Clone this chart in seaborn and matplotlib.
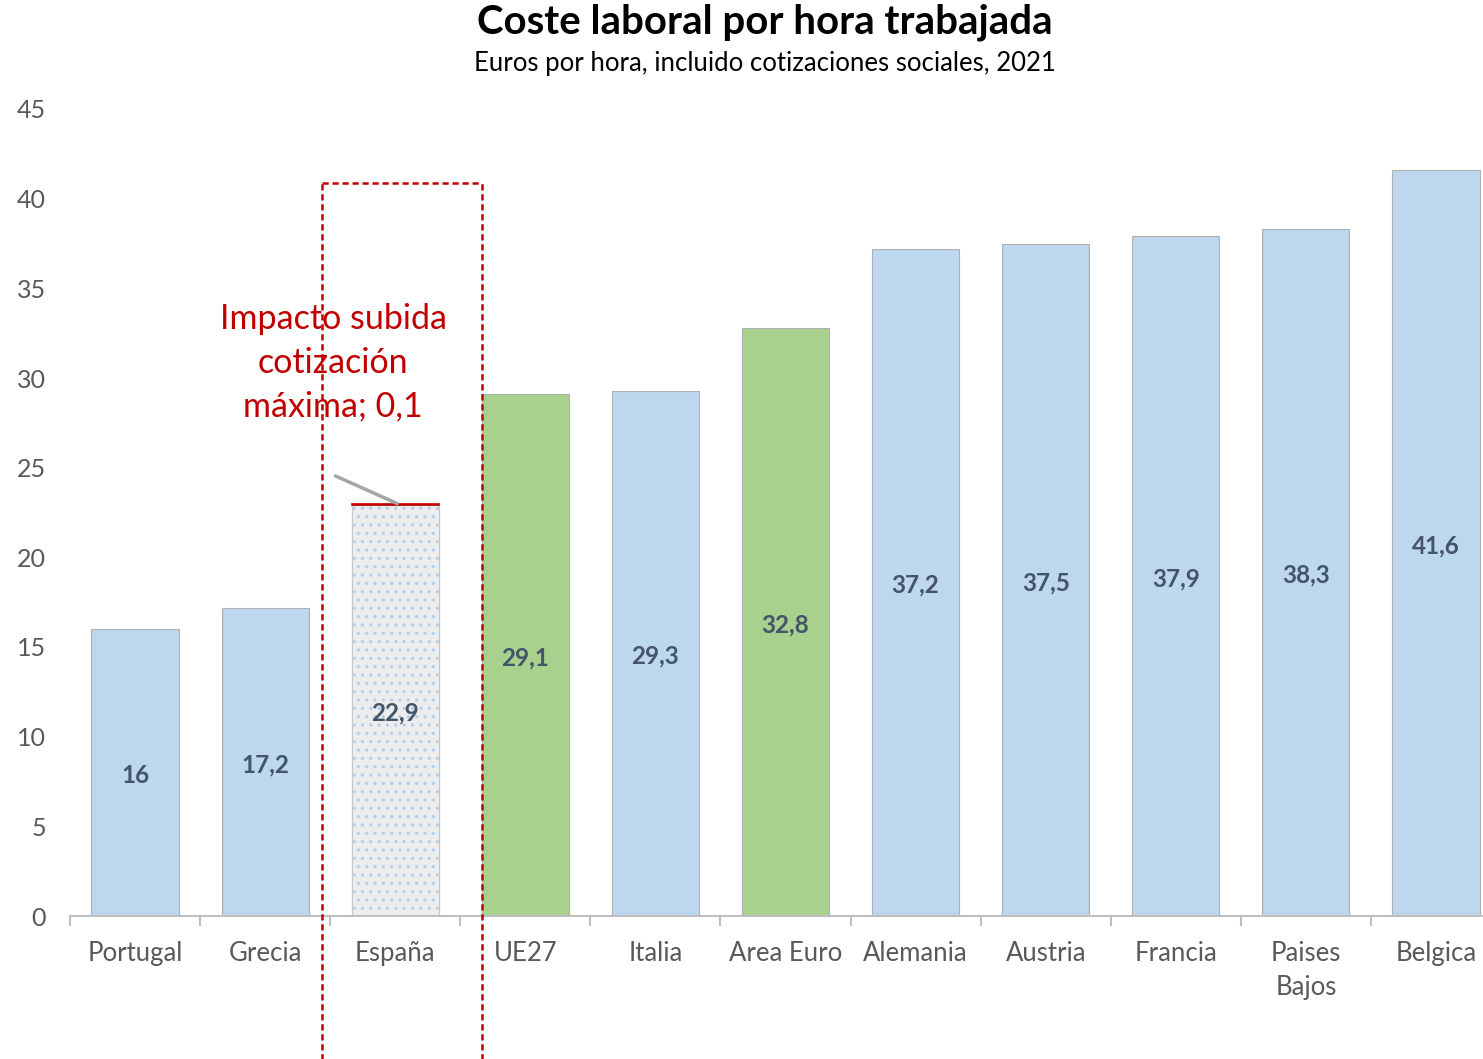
import numpy as np
import pandas as pd
import seaborn as sns
import matplotlib.pyplot as plt

# Datos: coste laboral por hora, 2021
paises = ['Portugal', 'Grecia', 'España', 'UE27', 'Italia', 'Area Euro',
          'Alemania', 'Austria', 'Francia', 'Paises\nBajos', 'Belgica']
coste = [16.0, 17.2, 22.9, 29.1, 29.3, 32.8, 37.2, 37.5, 37.9, 38.3, 41.6]
etiquetas = ['16', '17,2', '22,9', '29,1', '29,3', '32,8', '37,2', '37,5', '37,9', '38,3', '41,6']
impacto = 0.1
y_ticks = [0, 5, 10, 15, 20, 25, 30, 35, 40, 45]

azul = '#BDD7EE'
verde = '#A9D18E'
gris_barra = '#EDEDED'
rojo = '#C00000'
colores = [azul, azul, gris_barra, verde, azul, verde, azul, azul, azul, azul, azul]

df = pd.DataFrame({'pais': paises, 'coste': coste})

sns.set_style('white')
plt.rcParams['font.family'] = ['Lato', 'DejaVu Sans']
plt.rcParams['hatch.linewidth'] = 1.2

fig = plt.figure(figsize=(14.83, 10.59), dpi=100)
ax = fig.add_axes([70 / 1483, 1 - 916 / 1059, 1431 / 1483, (916 - 109) / 1059])

sns.barplot(data=df, x='pais', y='coste', hue='pais', palette=colores,
            legend=False, width=0.67, edgecolor='#B0B0B0', linewidth=0.8,
            saturation=1, ax=ax)

# España: trama punteada y franja roja del impacto
i_es = paises.index('España')
ax.bar(i_es, coste[i_es], width=0.67, facecolor='none', edgecolor='#B4D0EC',
       hatch='..', linewidth=0)
ax.bar(i_es, coste[i_es], width=0.67, facecolor='none', edgecolor='#C8C8C8',
       linewidth=0.8)
ax.bar(i_es, impacto, bottom=coste[i_es], width=0.67, color=rojo,
       edgecolor=rojo, linewidth=1.2)

# etiquetas de datos
for i, (v, t) in enumerate(zip(coste, etiquetas)):
    ax.text(i, v / 2 - 0.15, t, ha='center', va='center', fontsize=17.5,
            fontweight='bold', color='#44546A')

# anotación
ax.plot([1.54, 2.015], [24.54, 23.0], color='#A6A6A6', lw=2.5,
        solid_capstyle='round')
ax.text(1.523, 30.84, 'Impacto subida\ncotización\nmáxima; 0,1', ha='center',
        va='center', fontsize=24.5, color=rojo, linespacing=1.45)

# recuadro discontinuo
x0, x1, ytop, ybot = 1.44, 2.665, 40.9, -9.0
for xs, ys in [([x0, x0], [ybot, ytop]), ([x1, x1], [ybot, ytop]), ([x0, x1], [ytop, ytop])]:
    ax.plot(xs, ys, color=rojo, lw=1.8, ls=(0, (2.5, 1.5)), clip_on=False, zorder=5)

ax.set_xlim(-0.5, len(paises) - 0.5)
ax.set_ylim(0, 45)
ax.set_yticks(y_ticks)
ax.set_yticklabels([str(t) for t in y_ticks])
ax.set_xlabel('')
ax.set_ylabel('')

for s in ['top', 'right', 'left']:
    ax.spines[s].set_visible(False)
ax.spines['bottom'].set_color('#BFBFBF')
ax.spines['bottom'].set_linewidth(1.5)

ax.set_xticks(np.arange(-0.5, len(paises), 1.0), minor=True)
ax.tick_params(axis='x', which='minor', bottom=True, length=7, width=1.5,
               color='#BFBFBF', direction='out')
ax.tick_params(axis='x', which='major', length=0, pad=18, labelsize=18.5, labelcolor='#595959')
ax.tick_params(axis='y', length=0, pad=17.5, labelsize=18, labelcolor='#595959')
for lab in ax.get_yticklabels():
    lab.set_horizontalalignment('right')
for lab in ax.get_xticklabels():
    lab.set_linespacing(1.45)

fig.text(765 / 1483, 1 - 22 / 1059, 'Coste laboral por hora trabajada', ha='center',
         va='center', fontsize=29, fontweight='bold', color='black')
fig.text(765 / 1483, 1 - 63 / 1059, 'Euros por hora, incluido cotizaciones sociales, 2021',
         ha='center', va='center', fontsize=18.5, color='black')

fig.savefig('out.png', dpi=100)
